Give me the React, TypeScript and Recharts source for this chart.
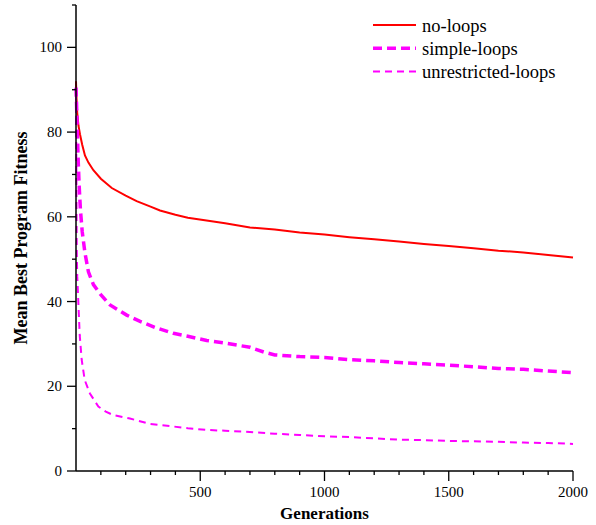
import React from 'react'
import { LineChart, Line, XAxis, YAxis, Legend } from 'recharts'

// generations and mean best fitness
const noLoopsGen = [0, 2, 5, 10, 16, 25, 36, 50, 70, 100, 144, 200, 244, 300, 338, 400, 450, 539, 600, 700, 800, 900, 1000, 1100, 1200, 1300, 1400, 1500, 1600, 1700, 1800, 1900, 2000]
const noLoopsFit = [92, 88, 84.5, 81.5, 79.5, 77, 74.5, 72.8, 71, 69, 66.8, 65, 63.7, 62.4, 61.5, 60.5, 59.8, 59, 58.5, 57.5, 57, 56.3, 55.8, 55.2, 54.7, 54.2, 53.6, 53.1, 52.6, 52, 51.6, 51, 50.4]

const simpleGen = [0, 2, 4, 6, 9, 13, 18, 25, 36, 50, 70, 97, 137, 204, 258, 318, 392, 450, 526, 600, 700, 760, 800, 900, 1000, 1100, 1200, 1300, 1400, 1500, 1600, 1700, 1800, 1900, 2000]
const simpleFit = [90.5, 87, 83, 79, 73, 67, 61.5, 56.5, 51.5, 47, 44, 41.8, 39.2, 36.8, 35.3, 33.9, 32.5, 31.8, 30.8, 30.2, 29.2, 28, 27.4, 27, 26.8, 26.3, 26, 25.6, 25.3, 25, 24.6, 24.2, 24, 23.6, 23.2]

const unrestrictedGen = [0, 1, 2, 3, 5, 9, 15, 23, 35, 56, 90, 120, 150, 217, 298, 378, 450, 526, 600, 700, 800, 900, 1000, 1100, 1200, 1300, 1400, 1500, 1600, 1700, 1800, 1900, 2000]
const unrestrictedFit = [89, 78, 64, 52, 46, 40.4, 32, 26.2, 21.5, 18.3, 15.2, 14, 13.2, 12.4, 11.1, 10.6, 10.1, 9.7, 9.5, 9.2, 8.8, 8.5, 8.2, 8, 7.7, 7.4, 7.3, 7.1, 7, 6.9, 6.7, 6.6, 6.4]

const xTicks = [100, 200, 300, 400, 500, 600, 700, 800, 900, 1000, 1100, 1200, 1300, 1400, 1500, 1600, 1700, 1800, 1900, 2000]
const yTicks = [0, 10, 20, 30, 40, 50, 60, 70, 80, 90, 100, 110]

const zip = (gens: number[], fits: number[]) => gens.map((g, i) => ({ gen: g, fit: fits[i] }))

const series = [
  { name: 'no-loops', data: zip(noLoopsGen, noLoopsFit), width: 2, dash: undefined },
  { name: 'simple-loops', data: zip(simpleGen, simpleFit), width: 3.5, dash: '9 5' },
  { name: 'unrestricted-loops', data: zip(unrestrictedGen, unrestrictedFit), width: 2, dash: '7 5' },
]
const colors: Record<string, string> = {
  'no-loops': '#ff0000',
  'simple-loops': '#ff00ff',
  'unrestricted-loops': '#ff00ff',
}

const FONT = '"Liberation Serif", serif'

const XTick = (props: any) => {
  const { x, y, payload } = props
  const major = payload.value % 500 === 0
  return (
    <g>
      <line x1={x} x2={x} y1={y} y2={y + (major ? 10 : 4)} stroke="#000" strokeWidth={1.3} />
      {major && (
        <text x={x} y={y + 26} textAnchor="middle" fontSize={15} style={{ fontFamily: FONT }} fill="#000">
          {payload.value}
        </text>
      )}
    </g>
  )
}

const YTick = (props: any) => {
  const { x, y, payload } = props
  const major = payload.value % 20 === 0
  return (
    <g>
      <line x1={x - (major ? 9 : 4)} x2={x} y1={y} y2={y} stroke="#000" strokeWidth={1.3} />
      {major && (
        <text x={x - 14} y={y + 5} textAnchor="end" fontSize={15} style={{ fontFamily: FONT }} fill="#000">
          {payload.value}
        </text>
      )}
    </g>
  )
}

const LegendBox = () => (
  <svg width={220} height={72}>
    {series.map((s, i) => (
      <g key={s.name}>
        <line x1={3} x2={46} y1={11 + i * 23.3} y2={11 + i * 23.3} stroke={colors[s.name]} strokeWidth={s.width} strokeDasharray={s.dash} />
        <text x={52} y={17.5 + i * 23.3} fontSize={18.5} style={{ fontFamily: FONT }} fill="#000">
          {s.name}
        </text>
      </g>
    ))}
  </svg>
)

export default function App() {
  return (
    <div style={{ width: 596, height: 525, fontFamily: FONT }}>
      <style>{'body{margin:0}'}</style>
      <LineChart width={596} height={525} margin={{ top: 5, right: 23, bottom: 0, left: 16 }}>
        <XAxis
          dataKey="gen"
          type="number"
          domain={[0, 2000]}
          ticks={xTicks}
          interval={0}
          height={54}
          axisLine={{ stroke: '#000', strokeWidth: 1.5 }}
          tickLine={false}
          tickSize={0}
          tickMargin={0}
          tick={<XTick />}
          allowDuplicatedCategory={false}
          label={{
            content: ({ viewBox }: any) => (
              <text x={viewBox.x + viewBox.width / 2} y={519} textAnchor="middle" fontSize={17} fontWeight="bold" style={{ fontFamily: FONT }} fill="#000">
                Generations
              </text>
            ),
          }}
        />
        <YAxis
          dataKey="fit"
          type="number"
          domain={[0, 110]}
          ticks={yTicks}
          interval={0}
          width={60}
          axisLine={{ stroke: '#000', strokeWidth: 1.5 }}
          tickLine={false}
          tickSize={0}
          tickMargin={0}
          tick={<YTick />}
          label={{
            content: ({ viewBox }: any) => {
              const cy = viewBox.y + viewBox.height / 2
              return (
                <text x={21} y={cy} transform={`rotate(-90, 21, ${cy})`} textAnchor="middle" dominantBaseline="central" fontSize={18} fontWeight="bold" style={{ fontFamily: FONT }} fill="#000">
                  Mean Best Program Fitness
                </text>
              )
            },
          }}
        />
        <Legend
          layout="horizontal"
          verticalAlign="middle"
          align="center"
          content={<LegendBox />}
          wrapperStyle={{ top: 14, left: 370, width: 220 }}
        />
        {series.map((s) => (
          <Line
            key={s.name}
            name={s.name}
            data={s.data}
            dataKey="fit"
            type="linear"
            stroke={colors[s.name]}
            strokeWidth={s.width}
            strokeDasharray={s.dash}
            dot={false}
            activeDot={false}
            isAnimationActive={false}
          />
        ))}
      </LineChart>
    </div>
  )
}
